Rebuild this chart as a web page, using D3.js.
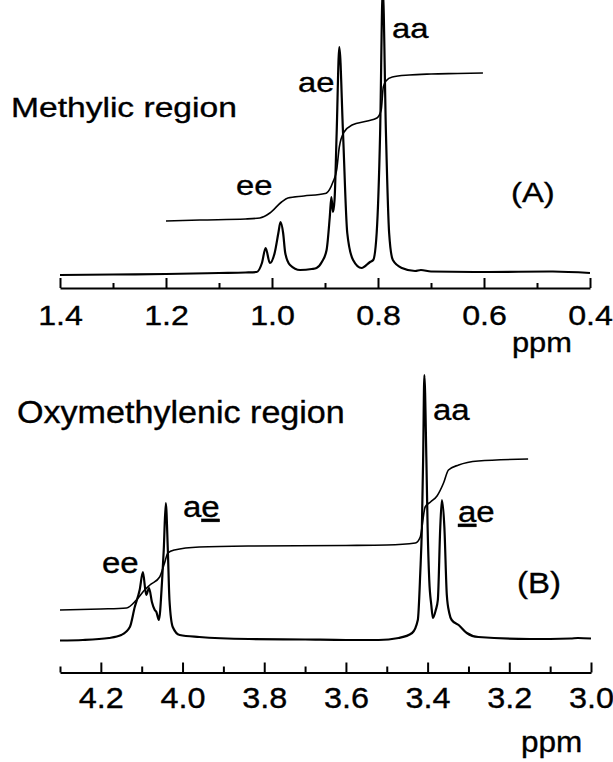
<!DOCTYPE html>
<html>
<head>
<meta charset="utf-8">
<script src="https://cdn.jsdelivr.net/npm/d3@7"></script>
<style>
  html, body { margin: 0; padding: 0; background: #fff; }
  svg { display: block; }
  text { font-family: Arial, "Liberation Sans", Helvetica, sans-serif; fill: #000; stroke: #000; stroke-width: 0.35px; }
</style>
</head>
<body>
<svg id="chart" width="613" height="762"></svg>
<script>
// ---------- DATA (ppm, intensity in arbitrary units) ----------
// Panel A: methylic region spectrum
const spectrumA = [
  [1.40,-2],[1.30,-1.5],[1.20,-1],[1.10,0],[1.05,0.5],[1.029,1],[1.019,10],[1.012,25],
  [1.004,10],[0.995,20],[0.988,40],[0.984,51],[0.979,40],[0.975,20],[0.966,8],[0.947,3],
  [0.925,4],[0.916,5],[0.906,11],[0.897,23],[0.891,56],[0.888,76],[0.885,61],[0.882,73],
  [0.878,140],[0.873,226],[0.866,140],[0.858,40],[0.847,13],[0.831,5],[0.815,11],[0.809,13],
  [0.8025,40],[0.796,140],[0.791,285],[0.785,140],[0.779,40],[0.772,13],[0.755,5],[0.73,2],
  [0.719,3],[0.70,1.5],[0.60,1],[0.47,1.5],[0.40,0]
];
// Panel A: integral curve
const integralA = [
  [1.20,52],[1.136,53],[1.05,54],[1.023,55],[1.004,60],[0.982,71],[0.970,75],[0.94,77],
  [0.90,79.5],[0.897,80],[0.885,91],[0.878,103],[0.873,126],[0.864,141],[0.849,148],
  [0.82,152],[0.802,155],[0.794,163],[0.790,186],[0.785,192],[0.773,196],[0.741,198],
  [0.70,199],[0.65,199.5],[0.602,200]
];
// Panel B: oxymethylenic region spectrum
const spectrumB = [
  [4.30,-0.5],[4.244,0],[4.18,2],[4.15,5],[4.129,13],[4.117,33],[4.105,50],[4.097,68],
  [4.089,45],[4.082,52],[4.075,38],[4.068,30],[4.064,28],[4.058,20],[4.050,60],[4.046,90],
  [4.041,137],[4.036,90],[4.032,40],[4.024,13],[4.007,5],[3.959,3],[3.837,1],[3.70,0.5],
  [3.60,0],[3.520,0],[3.471,2],[3.438,7],[3.424,20],[3.418,67],[3.414,113],[3.411,180],
  [3.408,265],[3.403,180],[3.400,113],[3.396,60],[3.391,35],[3.387,22],[3.380,30],[3.375,40],
  [3.369,113],[3.365,140],[3.359,113],[3.353,45],[3.347,27],[3.341,20],[3.324,15],[3.304,7],
  [3.276,3],[3.15,1],[3.05,1.5],[3.032,2],[3.0,1.5]
];
// Panel B: integral curve
const integralB = [
  [4.30,30],[4.20,31],[4.137,32],[4.113,40],[4.093,50],[4.080,55],[4.056,63],[4.044,77],
  [4.036,87],[4.020,90],[3.959,93],[3.837,94],[3.60,94.5],[3.50,95],[3.430,97],[3.418,103],
  [3.406,133],[3.393,138],[3.377,144],[3.361,157],[3.349,170],[3.324,175],[3.276,179],[3.154,181]
];
// Tick values
const majorTicksA = [1.4, 1.2, 1.0, 0.8, 0.6, 0.4];
const minorTicksA = [1.3, 1.1, 0.9, 0.7, 0.5];
const majorTicksB = [4.2, 4.0, 3.8, 3.6, 3.4, 3.2, 3.0];
const minorTicksB = [4.3, 4.1, 3.9, 3.7, 3.5, 3.3, 3.1];
const unitLabel = "ppm";
const titleA = "Methylic region";
const titleB = "Oxymethylenic region";

// ---------- DRAW ----------
const svg = d3.select("#chart");
svg.append("rect").attr("width", 613).attr("height", 762).attr("fill", "#fff");

function text(x, y, str, size, sx) {
  return svg.append("text")
    .attr("transform", `translate(${x},${y}) scale(${sx},1)`)
    .attr("font-size", size)
    .text(str);
}

function drawPanel(cfg) {
  const x = d3.scaleLinear().domain(cfg.xDomain).range(cfg.xRange);
  const y = d3.scaleLinear().domain(cfg.yDomain).range(cfg.yRange);
  const line = d3.line()
    .x(d => x(d[0])).y(d => y(d[1]))
    .curve(d3.curveMonotoneX);

  svg.append("path").datum(cfg.integral)
    .attr("d", line).attr("fill", "none")
    .attr("stroke", "#000").attr("stroke-width", 1.6);
  svg.append("path").datum(cfg.spectrum)
    .attr("d", line).attr("fill", "none")
    .attr("stroke", "#000").attr("stroke-width", 2.2)
    .attr("stroke-linejoin", "round");

  // minor ticks
  const minor = svg.append("g")
    .attr("transform", `translate(0,${cfg.axisY})`)
    .call(d3.axisBottom(x).tickValues(cfg.minor).tickSizeInner(-cfg.minorLen).tickSizeOuter(0).tickFormat(""));
  minor.select(".domain").remove();
  minor.selectAll("line").attr("stroke-width", 2);

  // major ticks + labels
  const major = svg.append("g")
    .attr("transform", `translate(0,${cfg.axisY})`)
    .call(d3.axisBottom(x).tickValues(cfg.major).tickSizeInner(-cfg.majorLen).tickSizeOuter(0)
      .tickPadding(cfg.pad).tickFormat(d3.format(".1f")));
  major.select(".domain").attr("stroke-width", 2.2);
  major.selectAll("line").attr("stroke-width", 2);
  major.selectAll("text")
    .attr("font-size", cfg.tickSize)
    .attr("font-family", "Arial, 'Liberation Sans', sans-serif")
    .attr("stroke", "#000").attr("stroke-width", 0.35)
    .attr("transform", `scale(${cfg.tickSx},1)`);
  return { x, y };
}

drawPanel({
  xDomain: [1.4, 0.4], xRange: [60, 590],
  yDomain: [0, 273], yRange: [273, 0],
  spectrum: spectrumA, integral: integralA,
  axisY: 288, major: majorTicksA, minor: minorTicksA,
  majorLen: 10, minorLen: 5, pad: 17, tickSize: 28, tickSx: 1.15
});

drawPanel({
  xDomain: [4.3, 3.0], xRange: [60, 591],
  yDomain: [0, 300], yRange: [640, 340],
  spectrum: spectrumB, integral: integralB,
  axisY: 672.5, major: majorTicksB, minor: minorTicksB,
  majorLen: 10, minorLen: 6, pad: 14, tickSize: 30, tickSx: 1.08
});

// Panel A annotations
text(11, 117, titleA, 28, 1.2);
text(298, 92, "ae", 28, 1.17);
text(392, 38, "aa", 28, 1.17);
text(236, 195, "ee", 28, 1.17);
text(511, 202, "(A)", 28, 1.17);
text(512, 352, unitLabel, 28, 1.1);

// Panel B annotations
text(17, 423, titleB, 31, 1.1);
text(433, 420, "aa", 30, 1.1);
const t1 = svg.append("text")
  .attr("transform", "translate(183,517) scale(1.1,1)").attr("font-size", 30);
t1.append("tspan").text("a");
t1.append("tspan").style("text-decoration", "underline").text("e");
const t2 = svg.append("text")
  .attr("transform", "translate(458,522) scale(1.1,1)").attr("font-size", 30);
t2.append("tspan").style("text-decoration", "underline").text("a");
t2.append("tspan").text("e");
text(102, 573, "ee", 30, 1.1);
text(517, 593, "(B)", 30, 1.1);
text(521, 752, unitLabel, 30, 1.05);
</script>
</body>
</html>
